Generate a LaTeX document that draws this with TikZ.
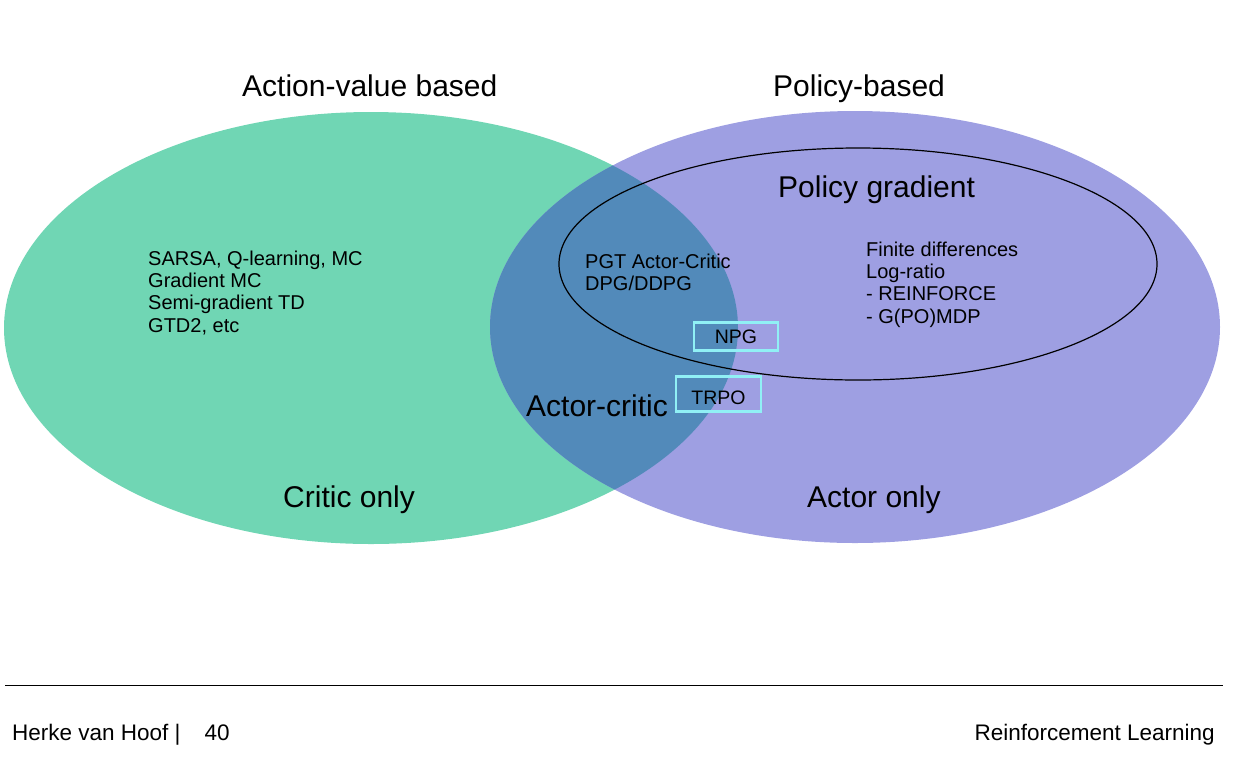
\documentclass[tikz,border=0pt]{standalone}
\usepackage{fontspec}
\setmainfont{Liberation Sans}
\definecolor{cgreen}{HTML}{70D6B4}
\definecolor{cpurple}{HTML}{9E9FE2}
\definecolor{cboth}{HTML}{528ABA}
\definecolor{ccyan}{HTML}{90F0F5}
\tikzset{
  biglabel/.style={inner sep=0pt, anchor=base west, font=\fontsize{30}{34}\selectfont},
  smalltext/.style={inner sep=0pt, anchor=north west, align=left, font=\fontsize{20}{22.3}\selectfont},
  algbox/.style={draw=ccyan, line width=2.5pt, inner sep=0pt, font=\fontsize{19.5}{22}\selectfont},
  foot/.style={inner sep=0pt, font=\fontsize{22.5}{26}\selectfont},
}
\begin{document}
\begin{tikzpicture}[x=1pt,y=-1pt]
\useasboundingbox (0,0) rectangle (1242,756);
% sets
\fill[cgreen] (371,328) ellipse [x radius=367pt, y radius=216pt];
\fill[cpurple] (855,327) ellipse [x radius=365pt, y radius=216pt];
\begin{scope}
  \clip (371,328) ellipse [x radius=367pt, y radius=216pt];
  \fill[cboth] (855,327) ellipse [x radius=365pt, y radius=216pt];
\end{scope}
\draw[line width=1.2pt, black] (858,264) ellipse [x radius=299pt, y radius=116pt];
% titles
\node[biglabel] (av) at (242,96) {Action-value based};
\node[biglabel] (pb) at (773,96) {Policy-based};
\node[biglabel] (pg) at (778,197) {Policy gradient};
\node[biglabel] (co) at (283,507) {Critic only};
\node[biglabel] (ao) at (807,507) {Actor only};
\node[biglabel] (ac) at (526,416) {Actor-critic};
% lists
\node[smalltext] (crit) at (148,250.5) {SARSA, Q-learning, MC\\Gradient MC\\Semi-gradient TD\\GTD2, etc};
\node[smalltext] (pgt) at (585,253.5) {PGT Actor-Critic\\DPG/DDPG};
\node[smalltext] (fd) at (866,241.5) {Finite differences\\Log-ratio\\- REINFORCE\\- G(PO)MDP};
% boxes
\node[algbox, minimum width=84pt, minimum height=28pt] (npg) at (736,336.5) {NPG};
\node[algbox, minimum width=85pt, minimum height=35pt, text height=20pt, text depth=0pt] (trpo) at (718.5,394) {TRPO};
% footer
\coordinate (fl) at (5,685.5);
\coordinate (fr) at (1223,685.5);
\draw[line width=1pt] (fl) -- (fr);
\node[foot, anchor=base west] (author) at (12,740) {Herke van Hoof |\hspace{24pt}40};
\node[foot, anchor=base east] (course) at (1215,740) {Reinforcement Learning};
\end{tikzpicture}
\end{document}
